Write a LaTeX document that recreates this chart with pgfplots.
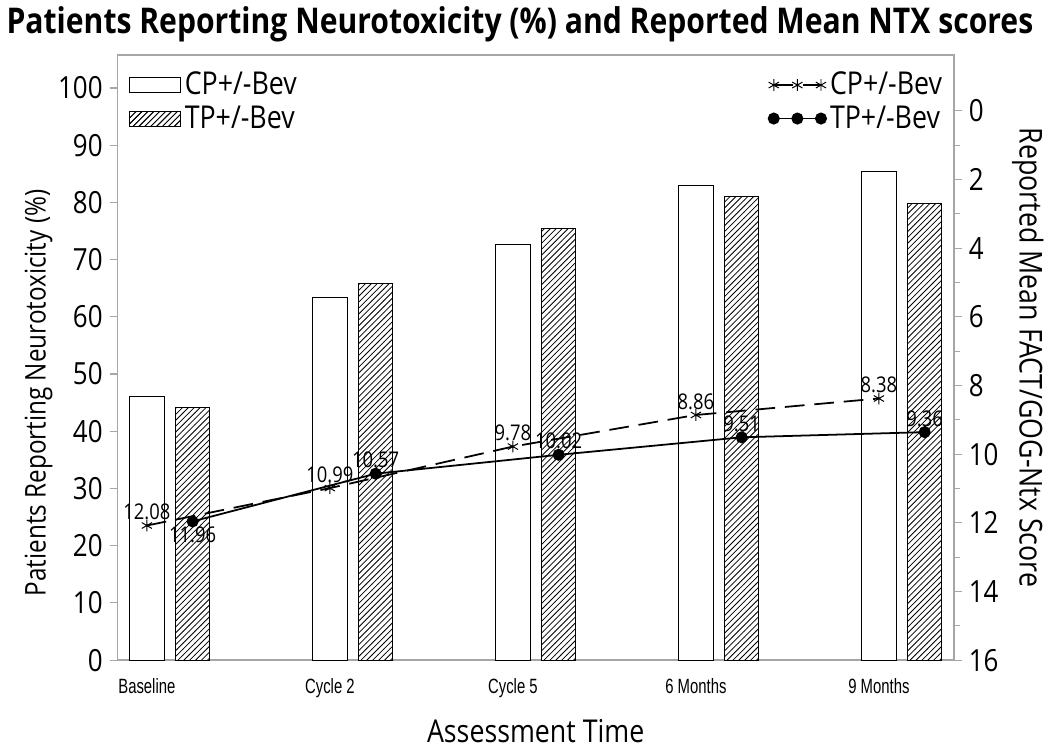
\documentclass[border=0pt]{standalone}
\usepackage{fontspec}
\setmainfont{Open Sans}[FakeStretch=0.85]
\newfontfamily\narrowfont{Liberation Sans}[FakeStretch=0.72]
\usepackage{pgfplots}
\pgfplotsset{compat=1.18}
\usetikzlibrary{patterns}

% 1 px of the reference ~ 0.5pt
\pgfplotsset{
  twin/.style={
    scale only axis, width=425pt, height=307.5pt,
    xmin=-0.161, xmax=4.41,
    tick align=outside,
    major tick length=4pt, minor tick length=3pt,
    every tick/.style={gray!70, line width=0.6pt},
    axis line style={gray!70, line width=0.8pt},
    ticklabel style={font=\fontsize{15.5}{17}\selectfont},
    /pgf/number format/assume math mode=true,
    clip=false,
  },
}

\begin{document}
\begin{tikzpicture}
\begin{axis}[twin,
  ymin=0, ymax=105.8,
  ytick={0,10,...,100},
  ytick pos=left,
  xtick={0,1,2,3,4},
  xticklabels={Baseline, Cycle 2, Cycle 5, 6 Months, 9 Months},
  xticklabel style={font=\narrowfont\fontsize{10.5}{12}\selectfont, yshift=-2pt},
  x tick style={draw=none},
  xlabel={Assessment Time},
  xlabel style={font=\fontsize{16}{18}\selectfont, yshift=-4pt},
  ylabel={Patients Reporting Neurotoxicity (\%)},
  ylabel style={font=\fontsize{14.5}{16}\selectfont, yshift=-4pt, xshift=-18pt},
  title={\textbf{Patients Reporting Neurotoxicity (\%) and Reported Mean NTX scores}},
  title style={font=\fontsize{18}{20}\selectfont, xshift=-8pt, yshift=-3pt},
  legend style={at={(0.006,0.985)}, anchor=north west, draw=none, fill=none,
    font=\fontsize{16}{18}\selectfont, row sep=0pt,
    /tikz/every even column/.append style={column sep=5pt}},
  legend cell align=left,
]
\addplot[ybar, bar width=0.188, bar shift=0pt, draw=black, fill=white, line width=0.5pt,
  legend image code/.code={\draw[draw=black, fill=white, line width=0.5pt] (0pt,-3.8pt) rectangle (26pt,3.8pt);}]
  coordinates {(0,46.1) (1,63.3) (2,72.6) (3,83.0) (4,85.4)};
\addlegendentry{CP+/-Bev}
\addplot[ybar, bar width=0.188, bar shift=0pt, draw=black, fill=white, postaction={pattern=north east lines}, line width=0.5pt,
  legend image code/.code={\draw[draw=black, pattern=north east lines, line width=0.5pt] (0pt,-3.8pt) rectangle (26pt,3.8pt);}]
  coordinates {(0.25,44.1) (1.25,65.9) (2.25,75.4) (3.25,81.1) (4.25,79.9)};
\addlegendentry{TP+/-Bev}
\end{axis}

\begin{axis}[twin,
  ymin=-1.63, ymax=16, y dir=reverse,
  axis x line=none,
  axis y line*=right,
  ytick={0,2,...,16}, minor ytick={1,3,...,15},
  ylabel={Reported Mean FACT/GOG-Ntx Score},
  ylabel style={font=\fontsize{16}{18}\selectfont, rotate=180},
  legend style={at={(0.998,0.985)}, anchor=north east, draw=none, fill=none,
    font=\fontsize{16}{18}\selectfont, row sep=0pt,
    /tikz/every even column/.append style={column sep=4pt}},
  legend cell align=left,
  legend image code/.code={
    \draw[#1, mark repeat=1] plot coordinates {(0pt,0pt) (12pt,0pt) (24pt,0pt)};},
  point meta=y,
  nodes near coords={\pgfmathprintnumber[fixed,fixed zerofill,precision=2]{\pgfplotspointmeta}},
  every node near coord/.append style={font=\fontsize{11}{12}\selectfont, black, inner sep=2.5pt},
]
\addplot[black, line width=0.9pt, dash pattern=on 10pt off 5pt, mark=asterisk, mark size=3pt,
  mark options={solid, line width=0.5pt}]
  coordinates {(0,12.08) (1,10.99) (2,9.78) (3,8.86) (4,8.38)};
\addlegendentry{CP+/-Bev}
\addplot[black, line width=0.9pt, mark=*, mark size=2.6pt,
  coordinate style/.condition={x<0.5}{anchor=north}]
  coordinates {(0.25,11.96) (1.25,10.57) (2.25,10.02) (3.25,9.51) (4.25,9.36)};
\addlegendentry{TP+/-Bev}
\end{axis}
\end{tikzpicture}
\end{document}
